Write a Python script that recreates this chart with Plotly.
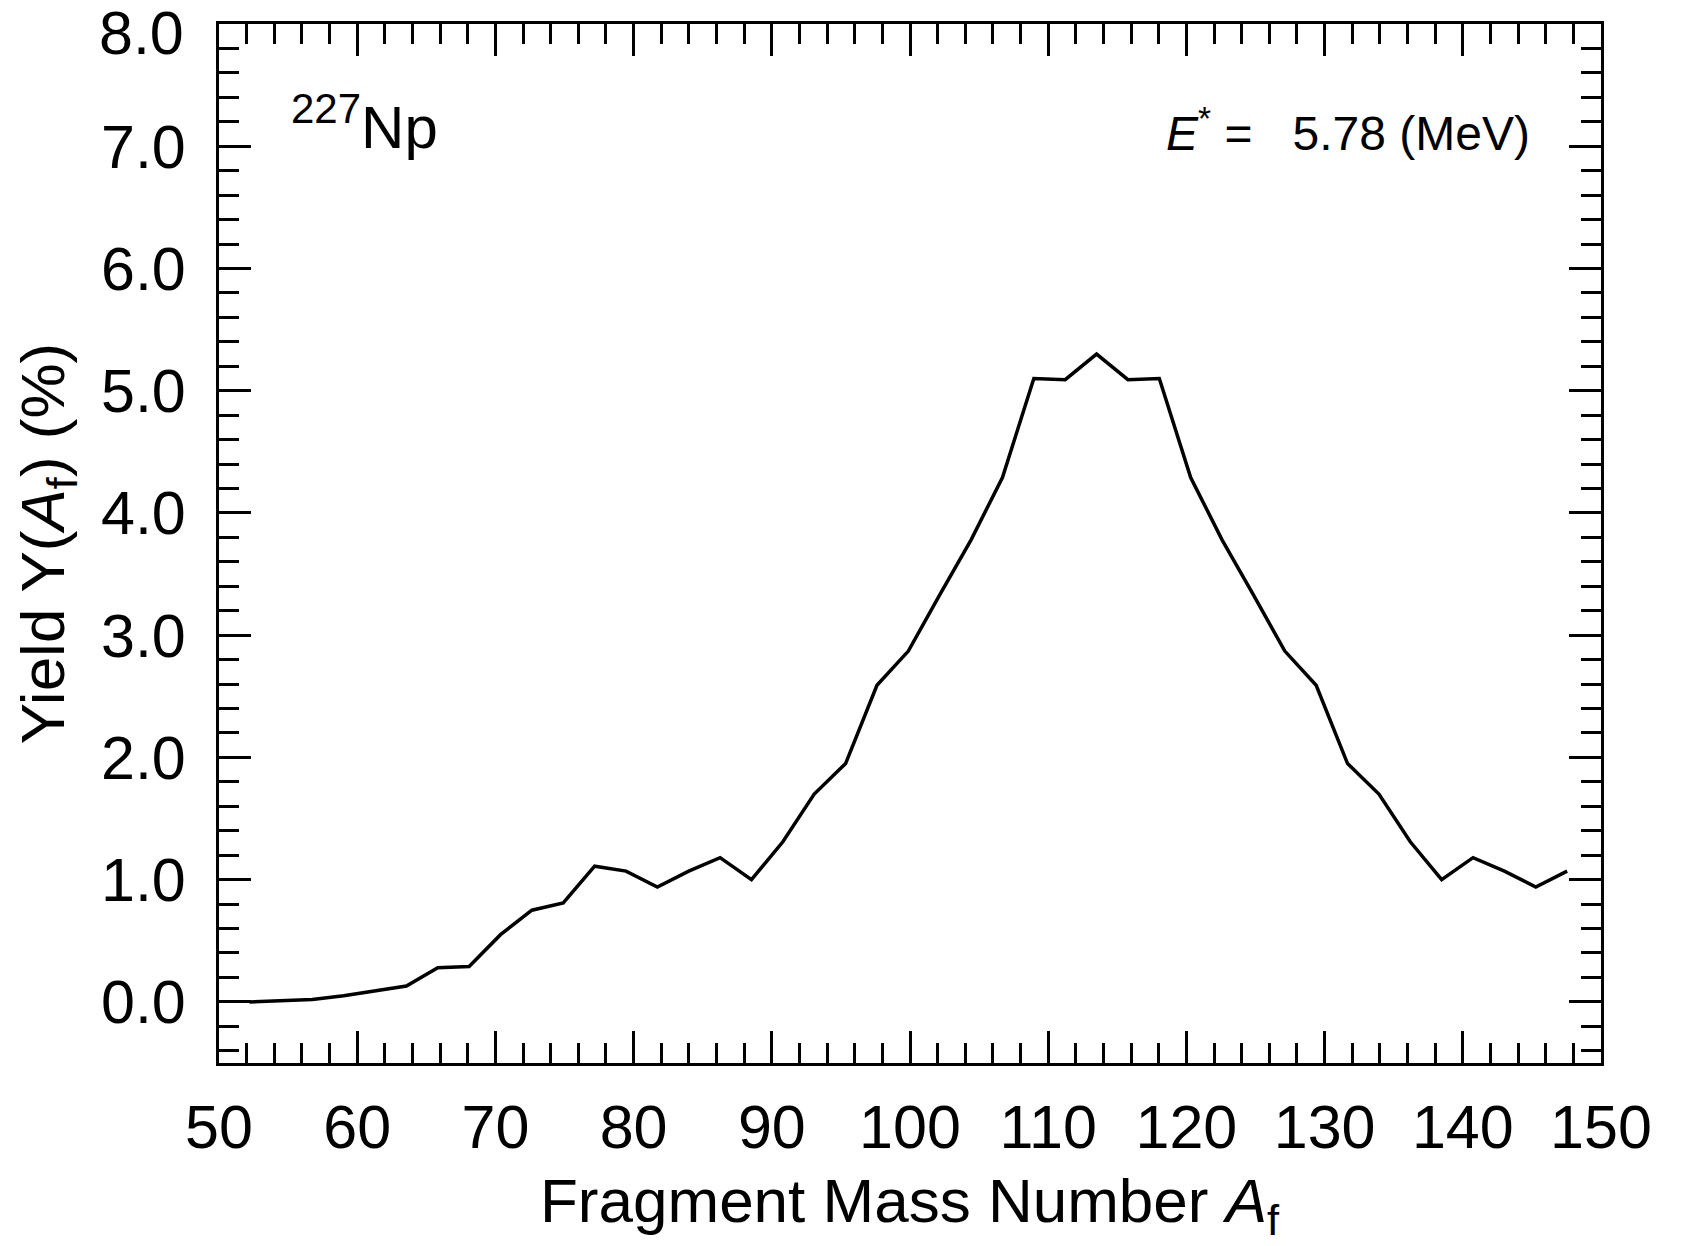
import plotly.graph_objects as go

# fragment mass numbers (bin centres) and yields in percent
mass_number = [52.21, 54.48, 56.75, 59.02, 61.29, 63.56, 65.83, 68.10, 70.37, 72.64,
               74.91, 77.18, 79.45, 81.72, 83.99, 86.26, 88.53, 90.80, 93.07, 95.34,
               97.61, 99.88, 102.15, 104.42, 106.69, 108.96, 111.23, 113.50, 115.77, 118.04,
               120.31, 122.58, 124.85, 127.12, 129.39, 131.66, 133.93, 136.20, 138.47, 140.74,
               143.01, 145.28, 147.55]
yield_pct = [0.00, 0.01, 0.02, 0.05, 0.09, 0.13, 0.28, 0.29, 0.55, 0.75,
             0.81, 1.11, 1.07, 0.94, 1.07, 1.18, 1.00, 1.31, 1.70, 1.95,
             2.59, 2.87, 3.33, 3.78, 4.29, 5.10, 5.09, 5.30, 5.09, 5.10,
             4.29, 3.78, 3.33, 2.87, 2.59, 1.95, 1.70, 1.31, 1.00, 1.18,
             1.07, 0.94, 1.07]

y_tickvals = [0, 1, 2, 3, 4, 5, 6, 7, 8]
y_ticktext = ["0.0", "1.0", "2.0", "3.0", "4.0", "5.0", "6.0", "7.0", ""]
top_label = "8.0"   # drawn a bit lower so it is not cut at the page edge

x_title = "Fragment Mass Number <i>A</i><sub>f</sub>"
y_title = "Yield Y(<i>A</i><sub>f</sub>) (%)"
nucleus_label = "<sup>227</sup>Np"
energy_label = "<i>E</i><sup>*</sup> =\u00a0\u00a0\u00a05.78 (MeV)"

FONT = "Liberation Sans, Arial, Helvetica, sans-serif"

fig = go.Figure()
fig.add_trace(go.Scatter(x=mass_number, y=yield_pct, mode="lines",
                         line=dict(color="black", width=3.5), showlegend=False))

axis_common = dict(
    showline=True, linecolor="black", linewidth=3, mirror="allticks",
    ticks="inside", ticklen=32, tickwidth=2.5, tickcolor="black",
    showgrid=False, zeroline=False, ticklabeloverflow="allow",
    tickfont=dict(family=FONT, size=61, color="black"),
)

fig.update_xaxes(
    range=[50, 150], dtick=10, tick0=50, ticklabelstandoff=9,
    minor=dict(dtick=2, ticks="inside", ticklen=20, tickwidth=2.5, tickcolor="black"),
    **axis_common)
fig.update_yaxes(
    range=[-0.5, 8.0001], tickmode="array", tickvals=y_tickvals, ticktext=y_ticktext,
    ticklabelstandoff=18,
    minor=dict(dtick=0.2, tick0=0, ticks="inside", ticklen=20, tickwidth=2.5, tickcolor="black"),
    title=dict(text=y_title, font=dict(family=FONT, size=62, color="black"), standoff=17),
    **axis_common)

fig.add_annotation(x=0.5, y=0, xref="paper", yref="paper", xanchor="center", yanchor="middle",
                   yshift=-142, text=x_title, showarrow=False,
                   font=dict(family=FONT, size=62, color="black"))
fig.add_annotation(x=0, y=y_tickvals[-1], xref="paper", yref="y", xanchor="right", yanchor="middle",
                   xshift=-33, yshift=-9, text=top_label, showarrow=False,
                   font=dict(family=FONT, size=61, color="black"))
fig.add_annotation(x=0.051, y=0.905, xref="paper", yref="paper", xanchor="left", yanchor="middle",
                   text=nucleus_label, showarrow=False, font=dict(family=FONT, size=60, color="black"))
fig.add_annotation(x=0.950, y=0.898, xref="paper", yref="paper", xanchor="right", yanchor="middle",
                   text=energy_label, showarrow=False, font=dict(family=FONT, size=48, color="black"))

# the page body adds an 8px offset, so margins are shifted to keep the frame in place
fig.update_layout(
    width=1683, height=1246,
    margin=dict(l=211, r=90, t=16, b=191, autoexpand=False),
    plot_bgcolor="white", paper_bgcolor="white",
)

fig.write_html("out.html")
